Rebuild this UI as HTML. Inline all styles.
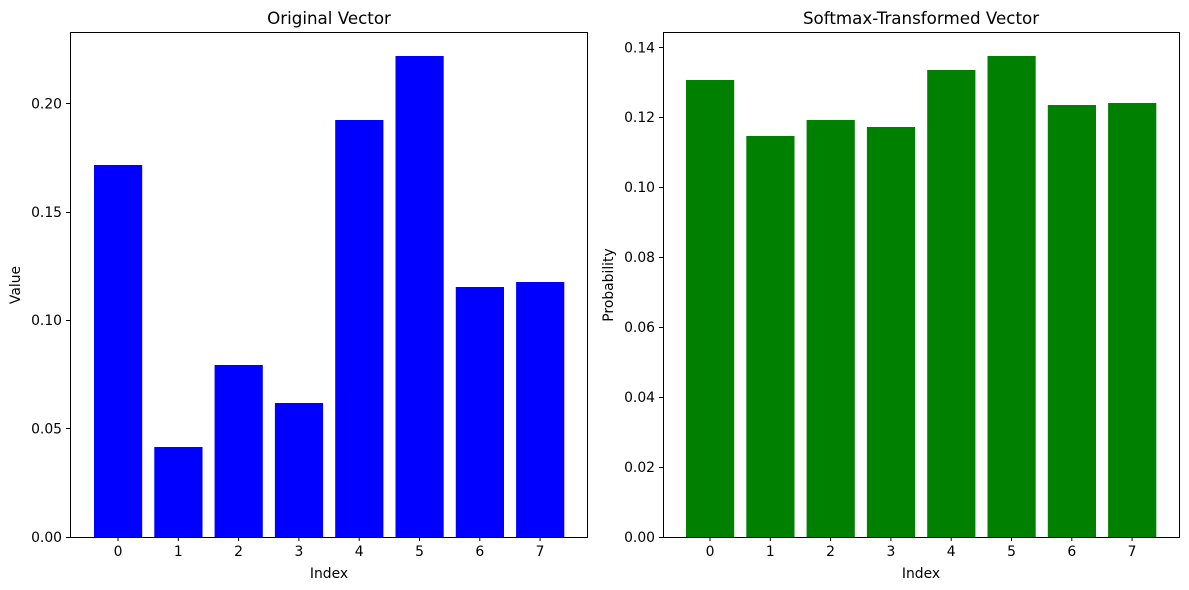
<!DOCTYPE html>
<html><head><meta charset="utf-8"><style>body{margin:0;background:#fff}svg{display:block}text{font-family:"DejaVu Sans","Liberation Sans",sans-serif;fill:#000}</style></head>
<body>
<svg width="1189" height="590" viewBox="0 0 1189 590" xmlns="http://www.w3.org/2000/svg">
<rect width="1189" height="590" fill="#fff"/>
<g fill="#0000ff">
<rect x="94" y="165" width="48.2" height="372"/>
<rect x="154.3" y="447" width="48.2" height="90"/>
<rect x="214.6" y="365" width="48.2" height="172"/>
<rect x="274.9" y="403" width="48.2" height="134"/>
<rect x="335.2" y="120" width="48.2" height="417"/>
<rect x="395.5" y="56" width="48.2" height="481"/>
<rect x="455.8" y="287" width="48.2" height="250"/>
<rect x="516.1" y="282" width="48.2" height="255"/>
</g>
<rect x="70.5" y="32.5" width="517" height="505" fill="none" stroke="#000" stroke-width="1"/>
<g stroke="#000">
<line x1="66" x2="70" y1="537.5" y2="537.5"/><line x1="66" x2="70" y1="428.5" y2="428.5"/><line x1="66" x2="70" y1="320.5" y2="320.5"/><line x1="66" x2="70" y1="212.5" y2="212.5"/><line x1="66" x2="70" y1="103.5" y2="103.5"/>
<line x1="118" x2="118" y1="537" y2="541"/><line x1="178.3" x2="178.3" y1="537" y2="541"/><line x1="238.6" x2="238.6" y1="537" y2="541"/><line x1="298.9" x2="298.9" y1="537" y2="541"/><line x1="359.2" x2="359.2" y1="537" y2="541"/><line x1="419.5" x2="419.5" y1="537" y2="541"/><line x1="479.8" x2="479.8" y1="537" y2="541"/><line x1="540.1" x2="540.1" y1="537" y2="541"/>
</g>
<g font-size="13.9" text-anchor="end">
<text x="62" y="542">0.00</text><text x="62" y="433.5">0.05</text><text x="62" y="325">0.10</text><text x="62" y="217">0.15</text><text x="62" y="108.5">0.20</text>
</g>
<g font-size="13.9" text-anchor="middle">
<text x="118" y="556">0</text><text x="178.3" y="556">1</text><text x="238.6" y="556">2</text><text x="298.9" y="556">3</text><text x="359.2" y="556">4</text><text x="419.5" y="556">5</text><text x="479.8" y="556">6</text><text x="540.1" y="556">7</text>
<text x="329" y="578">Index</text>
<text x="329" y="24" font-size="16.7">Original Vector</text>
<text transform="translate(20,285) rotate(-90)">Value</text>
</g>
<g fill="#008000">
<rect x="686" y="80" width="48.2" height="457"/>
<rect x="746.3" y="136" width="48.2" height="401"/>
<rect x="806.6" y="120" width="48.2" height="417"/>
<rect x="866.9" y="127" width="48.2" height="410"/>
<rect x="927.2" y="70" width="48.2" height="467"/>
<rect x="987.5" y="56" width="48.2" height="481"/>
<rect x="1047.8" y="105" width="48.2" height="432"/>
<rect x="1108.1" y="103" width="48.2" height="434"/>
</g>
<rect x="663.5" y="32.5" width="516" height="505" fill="none" stroke="#000" stroke-width="1"/>
<g stroke="#000">
<line x1="659" x2="663" y1="537.5" y2="537.5"/><line x1="659" x2="663" y1="467.5" y2="467.5"/><line x1="659" x2="663" y1="397.5" y2="397.5"/><line x1="659" x2="663" y1="327.5" y2="327.5"/><line x1="659" x2="663" y1="257.5" y2="257.5"/><line x1="659" x2="663" y1="187.5" y2="187.5"/><line x1="659" x2="663" y1="117.5" y2="117.5"/><line x1="659" x2="663" y1="47.5" y2="47.5"/>
<line x1="710" x2="710" y1="537" y2="541"/><line x1="770.3" x2="770.3" y1="537" y2="541"/><line x1="830.6" x2="830.6" y1="537" y2="541"/><line x1="890.9" x2="890.9" y1="537" y2="541"/><line x1="951.2" x2="951.2" y1="537" y2="541"/><line x1="1011.5" x2="1011.5" y1="537" y2="541"/><line x1="1071.8" x2="1071.8" y1="537" y2="541"/><line x1="1132.1" x2="1132.1" y1="537" y2="541"/>
</g>
<g font-size="13.9" text-anchor="end">
<text x="655" y="542">0.00</text><text x="655" y="472">0.02</text><text x="655" y="402">0.04</text><text x="655" y="332">0.06</text><text x="655" y="262">0.08</text><text x="655" y="192">0.10</text><text x="655" y="122">0.12</text><text x="655" y="52.5">0.14</text>
</g>
<g font-size="13.9" text-anchor="middle">
<text x="710" y="556">0</text><text x="770.3" y="556">1</text><text x="830.6" y="556">2</text><text x="890.9" y="556">3</text><text x="951.2" y="556">4</text><text x="1011.5" y="556">5</text><text x="1071.8" y="556">6</text><text x="1132.1" y="556">7</text>
<text x="921" y="578">Index</text>
<text x="921" y="24" font-size="16.7">Softmax-Transformed Vector</text>
<text transform="translate(613,285) rotate(-90)">Probability</text>
</g>
</svg>
</body></html>
